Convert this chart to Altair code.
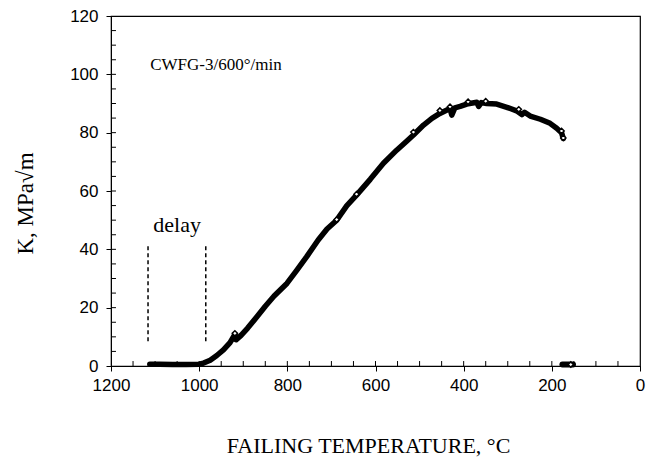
import altair as alt
import pandas as pd

# Main curve: failing temperature (°C) vs K (MPa·sqrt(m))
curve_T = [1112, 1090, 1060, 1030, 1000, 990, 975, 960, 945, 930, 919, 916, 905, 890,
           869, 850, 830, 801, 780, 756, 730, 710, 688, 665, 643, 612, 582, 552, 530,
           514, 491, 472, 454, 431, 427, 420, 408, 393, 370, 366, 360, 348, 325, 302,
           280, 268, 262, 249, 226, 204, 189, 178, 174]
curve_K = [0.6, 0.6, 0.5, 0.5, 0.6, 1.0, 2.0, 3.6, 5.5, 8.0, 10.8, 9.0, 10.5, 13.0,
           16.9, 20.5, 24.0, 28.3, 32.5, 37.5, 43.2, 47.0, 50.0, 55.0, 58.6, 64.0, 69.5,
           74.0, 77.0, 79.2, 82.6, 84.9, 86.6, 88.3, 86.0, 88.5, 89.0, 89.8, 90.4, 89.0,
           90.3, 90.0, 89.8, 88.7, 87.5, 86.2, 87.0, 85.7, 84.6, 83.2, 81.5, 80.0, 78.0]

# Post-fracture points at zero
tail_T = [176, 165, 152]
tail_K = [0.5, 0.5, 0.5]

# Open diamond markers visible along the curve
mark_T = [919, 688, 643, 514, 454, 431, 390, 350, 275, 178, 174, 157]
mark_K = [11.2, 50.2, 58.9, 80.2, 87.6, 88.9, 90.6, 90.8, 88.0, 80.6, 78.2, 0.5]

# Delay dashed lines
delay_T = [1116, 985]
delay_K0 = [8.5, 8.5]
delay_K1 = [42, 42]

# Annotations
label_T, label_K, label_text = [1111], [101.5], ["CWFG-3/600°/min"]
delay_txt_T, delay_txt_K, delay_text = [1050], [46], ["delay"]

# Axis ticks
x_major = [0, 200, 400, 600, 800, 1000, 1200]
y_major = [0, 20, 40, 60, 80, 100, 120]
x_minor = [50, 100, 150, 200, 250, 300, 350, 400, 450, 500, 550, 600, 650, 700, 750,
           800, 850, 900, 950, 1000, 1050, 1100, 1150]
y_minor = [5, 10, 15, 20, 25, 30, 35, 40, 45, 50, 55, 60, 65, 70, 75, 80, 85, 90, 95,
           100, 105, 110, 115]
# inward minor tick length expressed in data units (about 5 px)
x_tick_len = 11.3
y_tick_len = 1.7

df_curve = pd.DataFrame({"T": curve_T, "K": curve_K, "i": list(range(len(curve_T)))})
df_tail = pd.DataFrame({"T": tail_T, "K": tail_K})
df_mark = pd.DataFrame({"T": mark_T, "K": mark_K})
df_delay = pd.DataFrame({"T": delay_T, "K": delay_K0, "K2": delay_K1})
df_label = pd.DataFrame({"T": label_T, "K": label_K, "txt": label_text})
df_dtxt = pd.DataFrame({"T": delay_txt_T, "K": delay_txt_K, "txt": delay_text})
df_xminor = pd.DataFrame({"T": [float(v) for v in x_minor],
                          "K": [0.0] * len(x_minor), "K2": [y_tick_len] * len(x_minor)})
df_yminor = pd.DataFrame({"K": [float(v) for v in y_minor], "T": [1200.0] * len(y_minor),
                          "T2": [1200 - x_tick_len] * len(y_minor)})

xscale = alt.Scale(domain=[0, 1200], reverse=True, nice=False, zero=False)
yscale = alt.Scale(domain=[0, 120], nice=False)

xaxis = alt.Axis(values=x_major, format="d", grid=False, tickSize=5, labelPadding=6,
                 labelFont="Liberation Sans", labelFontSize=17, labelColor="black",
                 labelFlush=False, labelOverlap=False,
                 tickColor="black", domainColor="black",
                 title="FAILING TEMPERATURE, °C", titleFont="Liberation Serif",
                 titleFontSize=22, titleFontWeight="normal", titleColor="black",
                 titleX=257, titleY=79, titleAlign="center", titleBaseline="middle")
yaxis = alt.Axis(values=y_major, format="d", grid=False, tickSize=5, labelPadding=8,
                 labelFont="Liberation Sans", labelFontSize=17, labelColor="black",
                 labelFlush=False, labelOverlap=False,
                 tickColor="black", domainColor="black",
                 title="K, MPa√m", titleFont="Liberation Serif", titleFontSize=23,
                 titleFontWeight="normal", titleColor="black", titleAngle=270,
                 titleX=-86, titleY=187, titleAlign="center", titleBaseline="middle")

X = alt.X("T:Q", scale=xscale, axis=xaxis)
Y = alt.Y("K:Q", scale=yscale, axis=yaxis)

line = alt.Chart(df_curve).mark_line(
    color="black", strokeWidth=5.5, strokeCap="round", strokeJoin="round"
).encode(x=X, y=Y, order="i:Q")

tail = alt.Chart(df_tail).mark_line(color="black", strokeWidth=6, strokeCap="round").encode(x=X, y=Y)

marks = alt.Chart(df_mark).mark_point(shape="diamond", size=28, filled=True, fill="white",
                                      stroke="black", strokeWidth=1.5, opacity=1).encode(x=X, y=Y)

delay = alt.Chart(df_delay).mark_rule(color="black", strokeWidth=1.5,
                                      strokeDash=[4, 3]).encode(x=X, y=Y, y2="K2:Q")

label = alt.Chart(df_label).mark_text(align="left", baseline="alphabetic",
                                      font="Liberation Serif", fontSize=17,
                                      color="black").encode(x=X, y=Y, text="txt:N")
dtxt = alt.Chart(df_dtxt).mark_text(align="center", baseline="alphabetic",
                                    font="Liberation Serif", fontSize=22,
                                    color="black").encode(x=X, y=Y, text="txt:N")

xmin = alt.Chart(df_xminor).mark_rule(color="black", strokeWidth=1, opacity=1).encode(
    x=X, y=Y, y2="K2:Q")
ymin = alt.Chart(df_yminor).mark_rule(color="black", strokeWidth=1, opacity=1).encode(
    x=X, x2="T2:Q", y=Y)

chart = alt.layer(delay, line, tail, marks, label, dtxt, xmin, ymin).properties(
    width=529, height=350,
    autosize=alt.AutoSizeParams(type="none"),
    padding={"left": 111, "top": 16, "right": 7, "bottom": 96},
    background="white",
).configure_view(stroke="black", strokeWidth=1.2)

chart.save("out.html", embed_options={"renderer": "svg", "actions": False})
